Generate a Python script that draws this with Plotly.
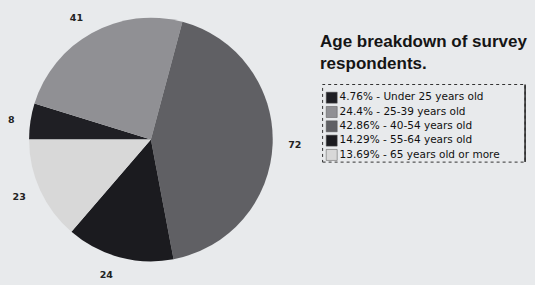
import plotly.graph_objects as go

# ---- data ----
categories = ["Under 25 years old", "25-39 years old", "40-54 years old",
              "55-64 years old", "65 years old or more"]
respondents = [8, 41, 72, 24, 23]
slice_colors = ["#1f1f24", "#909094", "#606064", "#1b1b1f", "#d8d8d8"]
title_text = "Age breakdown of survey<br>respondents."

total = sum(respondents)
pcts = [round(v / total * 100, 2) for v in respondents]
legend_labels = [f"{p:g}% - {c}" for p, c in zip(pcts, categories)]

# ---- geometry (styling) ----
W, H = 535, 285
cx, cy, r = 148, 141, 124
r_lab = 137


def dom(rad):
    return dict(x=[(cx - rad) / W, (cx + rad) / W],
                y=[(H - cy - rad) / H, (H - cy + rad) / H])


fig = go.Figure()

# visible pie
fig.add_trace(go.Pie(
    labels=categories, values=respondents, sort=False,
    direction="clockwise", rotation=-90,
    marker=dict(colors=slice_colors, line=dict(width=0)),
    textinfo="none", domain=dom(r), showlegend=False,
    hoverinfo="label+value+percent",
))

# transparent, slightly larger pie that carries the outside value labels
fig.add_trace(go.Pie(
    labels=categories, values=respondents, sort=False,
    direction="clockwise", rotation=-90,
    marker=dict(colors=["rgba(0,0,0,0)"] * len(categories), line=dict(width=0)),
    textinfo="value", textposition="outside",
    outsidetextfont=dict(family="DejaVu Sans", size=9.5, color="#222222", weight="bold"),
    domain=dom(r_lab), showlegend=False, hoverinfo="skip",
))

# legend drawn as a small scatter
fig.add_trace(go.Scatter(
    x=[0.045] * len(categories), y=list(range(len(categories))),
    mode="markers+text",
    marker=dict(symbol="square", size=11, color=slice_colors,
                line=dict(width=0.5, color="#555555")),
    text=legend_labels, textposition="middle right",
    textfont=dict(family="DejaVu Sans", size=10.5, color="#111111"),
    showlegend=False, hoverinfo="skip", cliponaxis=False,
))

fig.update_layout(
    width=W, height=H,
    margin=dict(l=0, r=0, t=0, b=0),
    paper_bgcolor="#e8eaec", plot_bgcolor="rgba(0,0,0,0)",
    showlegend=False,
    xaxis=dict(domain=[321 / W, 525 / W], range=[0, 1], visible=False, fixedrange=True),
    yaxis=dict(domain=[(H - 164) / H, (H - 85) / H], range=[4.5, -0.92],
               visible=False, fixedrange=True),
    shapes=[
        dict(type="rect", xref="x domain", yref="y domain", x0=0, x1=1, y0=0, y1=1,
             line=dict(color="#333333", width=1, dash="dot")),
        dict(type="line", xref="x domain", yref="y domain", x0=1, x1=1, y0=0, y1=1,
             line=dict(color="#222222", width=1.5)),
    ],
    annotations=[dict(
        text=title_text, xref="paper", yref="paper",
        x=316 / W, y=1 - 30 / H, xanchor="left", yanchor="top",
        showarrow=False, align="left",
        font=dict(family="Liberation Sans, Arial", size=17, color="#151515", weight="bold"),
    )],
)

fig.write_html(
    "out.html",
    config={"displayModeBar": False},
    post_script="document.body.style.margin='0';document.body.style.overflow='hidden';",
)
